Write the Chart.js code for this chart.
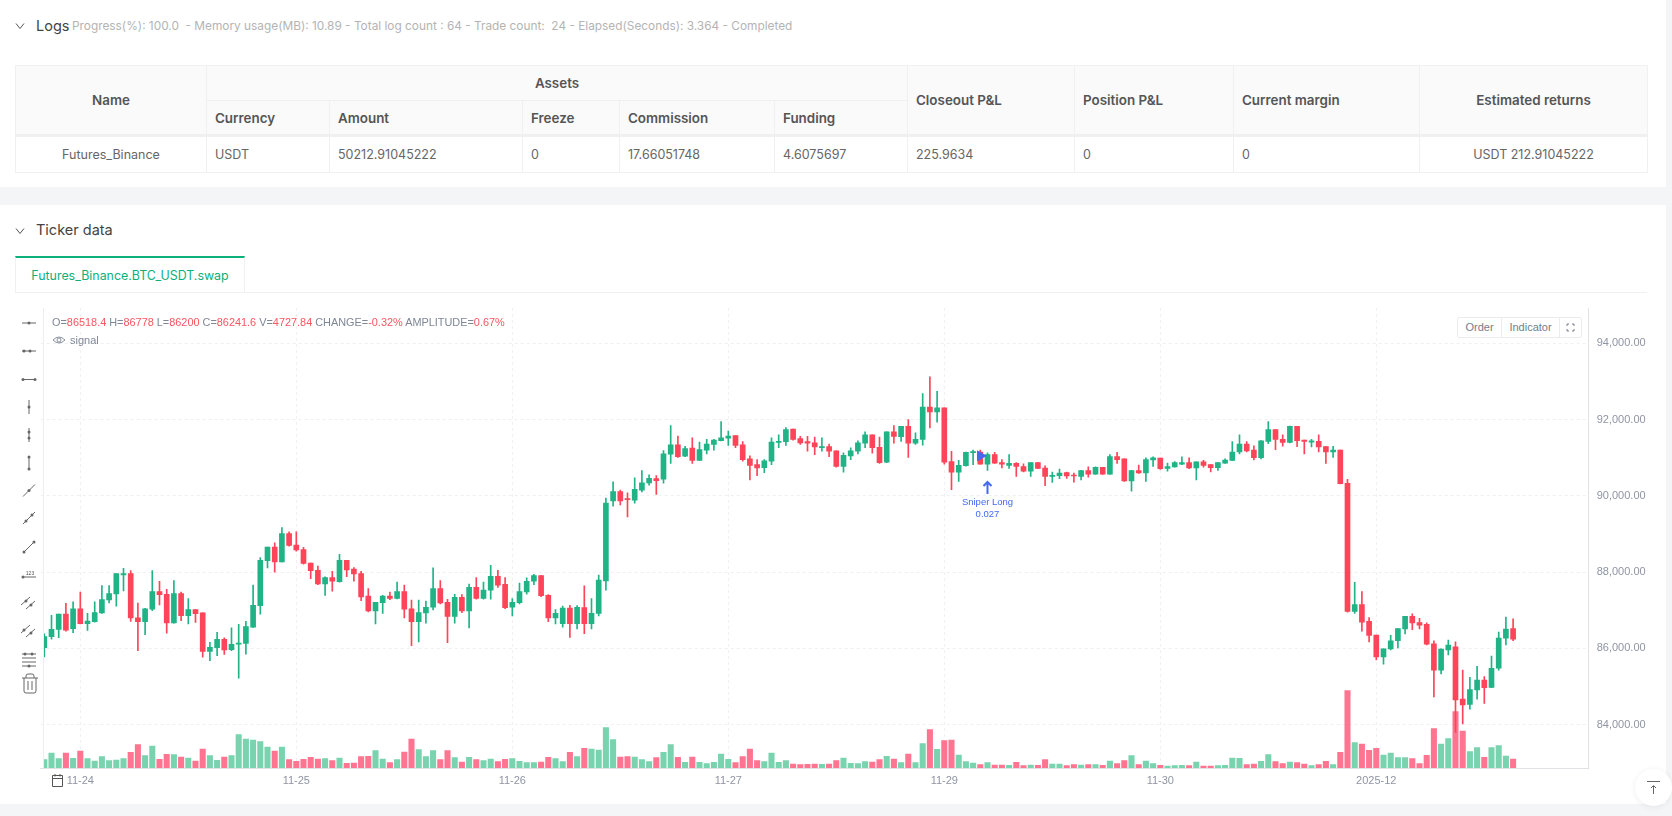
<!DOCTYPE html>
<html>
<head>
<meta charset="utf-8">
<title>Ticker data</title>
<script src="https://cdn.jsdelivr.net/npm/chart.js@4"></script>
<style>
    html, body { margin: 0; padding: 0; background: #f4f5f7; }
    body { width: 1672px; height: 816px; position: relative; overflow: hidden; font-family: Inter, sans-serif; color: #555; }
    .panel { position: absolute; left: 0; width: 1666px; background: #fff; }
    .chevron { position: absolute; left: 14px; width: 12px; height: 12px; }
    .title { position: absolute; left: 36px; font-size: 14.5px; line-height: 20px; color: #444; }
    .progress { position: absolute; left: 72px; top: 17px; font-size: 11.85px; line-height: 18px; color: #b4b4b4; white-space: pre; }

    table.assets { position: absolute; left: 15px; top: 65px; width: 1632px; border-collapse: collapse; table-layout: fixed; font-size: 12.5px; }
    table.assets th, table.assets td { border: 1px solid #f0f0f0; padding: 0 8px; text-align: left; font-weight: 400; color: #666; }
    table.assets th { background: #fafafa; font-size: 13.4px; font-weight: 600; color: #555; }
    table.assets tr.first { height: 35px; }
    table.assets tr.second { height: 35px; }
    table.assets tr.body { height: 37px; }
    table.assets thead tr:last-child th, table.assets th.tall { border-bottom: 3px solid #f0f0f0; }
    table.assets .center { text-align: center; }

    .tab { position: absolute; left: 15px; top: 256px; width: 228px; height: 35px; border: 1px solid #f0f0f0; border-top: 2px solid #0bb07b; border-bottom: 0; font-size: 12.4px; line-height: 36px; text-align: center; color: #0bb07b; }
    .tabline { position: absolute; left: 15px; top: 292px; width: 1632px; height: 1px; background: #f0f0f0; }

    #chartWrap { position: absolute; left: 0; top: 300px; width: 1672px; height: 504px; }
    .paneline { position: absolute; left: 43px; top: 308px; width: 1px; height: 460px; background: #eeeeee; }

    .legend { position: absolute; left: 52px; top: 315px; font: 10.9px/14px "Liberation Sans", sans-serif; color: #7f8796; white-space: pre; }
    .legend b { font-weight: 400; color: #f9565f; }
    .signal { position: absolute; left: 70px; top: 333px; font: 11px/14px "Liberation Sans", sans-serif; color: #7f8796; }

    .buttons { position: absolute; left: 1457px; top: 317px; width: 123px; height: 19px; border: 1px solid #ececec; border-radius: 2px; background: #fff; font: 11px/19px "Liberation Sans", sans-serif; color: #767d8a; display: flex; box-sizing: content-box; }
    .buttons span { display: block; text-align: center; border-right: 1px solid #ececec; }

    #toolbar { position: absolute; left: 18px; top: 310px; width: 24px; height: 400px; }
    .totop { position: absolute; left: 1635px; top: 769px; width: 37px; height: 37px; border-radius: 50%; background: #fff; box-shadow: 0 1px 6px rgba(0,0,0,.07); }
</style>
</head>
<body>

<div class="panel" style="top:0;height:187px;"></div>
<div class="panel" style="top:205px;height:599px;"></div>

<svg class="chevron" style="top:20px" viewBox="0 0 12 12"><path d="M2 3.5 L6 8.5 L10 3.5" fill="none" stroke="#555" stroke-width="1"/></svg>
<div class="title" style="top:16px">Logs</div>
<div class="progress">Progress(%): 100.0  - Memory usage(MB): 10.89 - Total log count : 64 - Trade count:  24 - Elapsed(Seconds): 3.364 - Completed</div>

<table class="assets">
    <colgroup>
        <col style="width:191px"><col style="width:123px"><col style="width:193px"><col style="width:97px"><col style="width:155px">
        <col style="width:133px"><col style="width:167px"><col style="width:159px"><col style="width:186px"><col style="width:228px">
    </colgroup>
    <thead>
        <tr class="first"><th rowspan="2" class="center tall">Name</th><th colspan="5" class="center">Assets</th><th rowspan="2" class="tall">Closeout P&amp;L</th><th rowspan="2" class="tall">Position P&amp;L</th><th rowspan="2" class="tall">Current margin</th><th rowspan="2" class="center tall">Estimated returns</th></tr>
        <tr class="second"><th>Currency</th><th>Amount</th><th>Freeze</th><th>Commission</th><th>Funding</th></tr>
    </thead>
    <tbody>
        <tr class="body"><td class="center">Futures_Binance</td><td>USDT</td><td>50212.91045222</td><td>0</td><td>17.66051748</td><td>4.6075697</td><td>225.9634</td><td>0</td><td>0</td><td class="center">USDT 212.91045222</td></tr>
    </tbody>
</table>

<svg class="chevron" style="top:225px" viewBox="0 0 12 12"><path d="M2 3.5 L6 8.5 L10 3.5" fill="none" stroke="#555" stroke-width="1"/></svg>
<div class="title" style="top:220px">Ticker data</div>
<div class="tabline"></div>
<div class="tab">Futures_Binance.BTC_USDT.swap</div>

<div id="chartWrap"><canvas id="klineChart"></canvas></div>
<div class="paneline"></div>

<div class="legend">O=<b>86518.4</b> H=<b>86778</b> L=<b>86200</b> C=<b>86241.6</b> V=<b>4727.84</b> CHANGE=<b>-0.32%</b> AMPLITUDE=<b>0.67%</b></div>
<svg style="position:absolute;left:52px;top:334px" width="14" height="12" viewBox="0 0 14 12"><path d="M1 6 Q7 0 13 6 Q7 12 1 6 Z" fill="none" stroke="#8a909c"/><circle cx="7" cy="6" r="2" fill="none" stroke="#8a909c"/></svg>
<div class="signal">signal</div>

<div class="buttons"><span style="width:43px">Order</span><span style="width:57px">Indicator</span><svg width="21" height="19" viewBox="0 0 21 19"><path d="M7 8 V6 H9 M12 6 H14 V8 M14 11 V13 H12 M9 13 H7 V11" fill="none" stroke="#767d8a"/></svg></div>

<svg id="toolbar" viewBox="0 0 24 400"></svg>

<svg style="position:absolute;left:47px;top:772px" width="18" height="16" viewBox="0 0 18 16"><path d="M5.5 3.5 H15.5 V14.5 H5.5 Z M5.5 6.5 H15.5 M8 2 V4.5 M13 2 V4.5" fill="none" stroke="#555"/></svg>

<div class="totop"><svg width="37" height="37" viewBox="0 0 37 37"><path d="M12 12.5 H25 M18.5 17 V25 M16 19 L18.5 16.5 L21 19" fill="none" stroke="#666"/></svg></div>

<script>
// price axis and date axis
const priceTicks = [84000, 86000, 88000, 90000, 92000, 94000];
const dateTickIndexes = [5, 35, 65, 95, 125, 155, 185];
const dateTickLabels = ['11-24', '11-25', '11-26', '11-27', '11-29', '11-30', '2025-12'];

const slotCount = 215; // empty slots stay on the right of the last candle

const opens = [
    86020,86310,86500,86900,86520,87040,86650,86700,86930,87270,
    87430,87930,87960,86800,86700,87030,87490,87420,86670,87440,
    86860,87020,86930,85920,86020,86240,85970,86110,86130,86560,
    87120,88300,88660,88270,89010,88710,88590,88240,88050,87690,
    87860,87750,88310,88080,87960,87370,86980,87200,87370,87310,
    87490,87040,86700,86930,87080,87570,87210,86840,87340,86980,
    87600,87310,87530,87890,87680,87080,87200,87480,87760,87910,
    87390,86800,86650,87060,86650,87070,86650,86920,87770,89870,
    90110,89930,89890,90150,90340,90450,90440,91090,91340,91040,
    91250,90930,91200,91350,91450,91510,91580,91340,90970,90820,
    90740,90910,91400,91420,91750,91500,91420,91390,91260,91290,
    91180,90770,91050,91170,91380,91600,91270,90880,91680,91550,
    91820,91380,91480,92330,92200,92310,90900,90620,90790,91130,
    91150,90830,91080,90870,90800,90850,90770,90650,90870,90730,
    90510,90530,90610,90540,90510,90660,90570,90750,90570,91030,
    90970,90390,90660,90600,90940,90990,90720,90760,90830,90870,
    90730,90890,90820,90740,90860,90930,91150,91360,91200,91000,
    91430,91740,91480,91400,91820,91460,91410,91430,91290,91150,
    91200,90330,86970,87150,86710,86350,85780,85990,86200,86510,
    86840,86680,86630,86120,85430,85960,86040,84670,84530,84910,
    85170,84980,85480,86270,86518.4
];

const highs = [
    86380,86870,86900,87180,87220,87480,86920,87220,87650,87650,
    87960,88100,88040,87190,87050,88040,87760,87550,87780,87480,
    87310,87020,86930,86160,86420,86280,86540,86630,86710,87660,
    88380,88660,88770,89170,89060,89060,88650,88240,88160,87880,
    88020,88470,88310,88120,88020,87570,87210,87390,87480,87740,
    87660,87270,87270,87240,88110,87780,87290,87420,87410,87690,
    87860,87740,88180,88050,87860,87310,87710,87850,87940,87910,
    87410,87020,87110,87130,87120,87640,87310,87920,89940,90370,
    90150,90080,90470,90660,90550,90530,91190,91840,91570,91300,
    91520,91410,91480,91480,91950,91700,91580,91420,91050,90950,
    90950,91520,91600,91790,91750,91560,91560,91540,91520,91360,
    91180,91130,91260,91440,91680,91600,91540,91680,91840,91820,
    92000,91650,92680,93120,92740,92310,91170,90930,91150,91200,
    91200,91130,91140,90950,91080,90870,90840,90870,90870,90790,
    90620,90700,90620,90600,90670,90760,90760,90750,91080,91140,
    90970,90670,90810,91000,91020,90990,90860,90900,91020,91000,
    90890,90930,90820,90880,90970,91420,91600,91420,91310,91450,
    91950,91740,91600,91830,91820,91460,91480,91600,91290,91300,
    91200,90430,87730,87490,86810,86350,85990,86340,86520,86840,
    86910,86790,86670,86200,85990,86220,86170,85430,85240,85530,
    85260,85800,86430,86820,86778
];

const lows = [
    85780,86240,86280,86450,86410,86640,86470,86690,86920,87190,
    87110,87510,86710,85940,86360,86990,87140,86400,86660,86730,
    86640,86680,85770,85680,85810,85840,85940,85220,85850,86550,
    86900,88110,88000,88270,88680,88550,88210,87830,87670,87390,
    87500,87740,87880,87760,87250,86960,86640,86920,87280,87300,
    86800,86070,86170,86660,87010,87170,86150,86660,86940,86540,
    87290,87290,87290,87600,87040,86850,87170,87420,87670,87360,
    86700,86640,86560,86290,86510,86390,86510,86850,87530,89730,
    89760,89450,89810,90100,90280,90040,90330,90850,91010,91030,
    90850,90930,91100,91200,91440,91320,91260,90910,90420,90530,
    90610,90820,91260,91320,91460,91350,91170,91080,91170,91030,
    90750,90620,90950,91100,91260,91120,90850,90870,91380,91430,
    91010,91350,91330,91780,91930,90830,90160,90380,90780,90820,
    90830,90670,90850,90730,90720,90510,90630,90510,90710,90270,
    90350,90450,90460,90360,90420,90490,90560,90560,90560,90850,
    90380,90120,90590,90380,90770,90690,90650,90750,90820,90710,
    90420,90750,90630,90670,90850,90920,91100,91150,90940,90970,
    91370,91210,91300,91390,91290,91100,91280,91150,90850,91010,
    90310,86950,86920,86450,86170,85700,85590,85960,86010,86380,
    86490,86510,86090,84730,85330,85830,83800,84020,84410,84670,
    84560,84970,85430,86090,86200
];

const closes = [
    86310,86500,86900,86480,87040,86650,86720,86940,87280,87440,
    87960,87960,86800,86700,87040,87490,87410,86670,87440,86860,
    87020,86910,85920,86030,86240,85960,86110,86140,86570,87130,
    88310,88660,88270,89010,88700,88580,88230,88040,87690,87860,
    87760,88310,88060,87950,87350,86980,87210,87370,87310,87490,
    87030,86700,86940,87080,87570,87190,86840,87340,86980,87600,
    87310,87530,87890,87660,87070,87210,87490,87760,87910,87380,
    86800,86920,87060,86650,87080,86650,86920,87790,89810,90110,
    89870,89900,90170,90340,90460,90400,91100,91340,91030,91240,
    90930,91210,91360,91460,91520,91570,91320,90950,90800,90730,
    90920,91410,91430,91740,91480,91390,91380,91280,91290,91170,
    90770,91060,91180,91390,91600,91260,90870,91680,91560,91820,
    91380,91480,92330,92200,92310,90880,90620,90800,91140,91160,
    90830,91080,90860,90830,90850,90770,90650,90870,90720,90510,
    90540,90600,90520,90520,90660,90570,90750,90570,91030,90950,
    90390,90660,90600,90950,91000,90710,90770,90870,90870,90730,
    90890,90800,90740,90870,90940,91150,91360,91180,91000,91440,
    91740,91480,91400,91820,91450,91430,91440,91280,91150,91200,
    90320,86970,87150,86690,86340,85780,85990,86200,86520,86840,
    86670,86610,86110,85430,85980,86090,84650,84520,84920,85170,
    84970,85480,86270,86510,86241.6
];

const volumes = [
    4375,7875,4900,7875,5075,8925,4900,3675,5950,3850,
    4200,4900,8225,12250,6475,11550,4550,7175,7000,5775,
    5250,3675,9975,6475,4025,5775,6475,17500,15225,14700,
    13825,11025,8925,11025,4375,3500,4550,5600,4725,4900,
    3850,5250,2450,2625,5950,6125,9100,4725,2800,4375,
    8400,15225,9625,5950,9100,4375,9100,5425,3150,5600,
    4375,3850,4725,3325,4550,4900,3500,2800,2800,3150,
    5600,4900,3325,8225,5950,10325,9975,9450,21175,14875,
    5775,5950,5775,4375,3325,5425,8225,12250,5600,2975,
    5775,2975,2275,2975,7350,4550,2800,5950,9975,3850,
    3325,7875,2975,3850,2100,1750,1925,2100,1925,2100,
    3850,5250,2450,2275,3325,3150,4375,6125,4725,2800,
    7350,2800,12775,20125,9800,14350,14700,6825,3325,2625,
    1750,2800,1575,1575,1400,2975,1225,1575,1400,4375,
    2100,2100,1225,1750,1575,1750,1750,1400,3675,2275,
    3850,6475,1750,3675,2275,1400,1050,1225,1400,1225,
    3150,1050,1050,1225,1400,5250,5075,1750,2100,3500,
    7000,3325,2275,3150,2800,2100,1225,1750,3500,1750,
    8225,40600,13300,12600,9275,10325,6825,7875,5425,5425,
    4900,2275,6650,20650,12600,15400,29575,19425,8575,10675,
    5600,10675,11725,6300,4727.84
];

// signal drawn on the candles
const signalMarkerIndex = 130;
const signalMarkerPrice = 91050;
const signalArrowIndex = 131;
const signalArrowPrice = 90390;
const signalTexts = ['Sniper Long', '0.027'];

const upColor = '#1fb385';
const downColor = '#fd4458';
const upVolumeColor = '#79d3ae';
const downVolumeColor = '#ff7490';
const signalColor = '#4468f2';

const labels = Array.from({ length: slotCount }, (_, i) => i);

function isUp(i) {
    return closes[i] >= opens[i];
}

const wickColors = opens.map((_, i) => isUp(i) ? upColor : downColor);
const volumeColors = opens.map((_, i) => isUp(i) ? upVolumeColor : downVolumeColor);

// arrow and text under the entry candle
const signalPlugin = {
    id: 'signalPlugin',
    afterDatasetsDraw(chart) {
        const ctx = chart.ctx;
        const x = chart.scales.x.getPixelForValue(signalArrowIndex);
        const y = chart.scales.y.getPixelForValue(signalArrowPrice);
        ctx.save();
        ctx.strokeStyle = signalColor;
        ctx.fillStyle = signalColor;
        ctx.lineWidth = 2;
        ctx.beginPath();
        ctx.moveTo(x, y + 1);
        ctx.lineTo(x, y + 13);
        ctx.moveTo(x - 4, y + 5);
        ctx.lineTo(x, y + 1);
        ctx.lineTo(x + 4, y + 5);
        ctx.stroke();
        ctx.font = '9.5px "Liberation Sans", sans-serif';
        ctx.textAlign = 'center';
        ctx.textBaseline = 'middle';
        ctx.fillText(signalTexts[0], x, y + 21);
        ctx.fillText(signalTexts[1], x, y + 33);
        ctx.restore();
    }
};

function createKlineChart() {
    const ctx = document.getElementById('klineChart');

    return new Chart(ctx, {
        type: 'bar',
        plugins: [signalPlugin],
        data: {
            labels: labels,
            datasets: [
                {
                    label: 'signal',
                    type: 'line',
                    order: 1,
                    yAxisID: 'y',
                    data: labels.map(i => i === signalMarkerIndex ? signalMarkerPrice : null),
                    showLine: false,
                    pointStyle: 'triangle',
                    pointRotation: 90,
                    pointRadius: 6.5,
                    pointBackgroundColor: signalColor,
                    pointBorderWidth: 0
                },
                {
                    label: 'body',
                    order: 2,
                    yAxisID: 'y',
                    grouped: false,
                    barThickness: 5,
                    minBarLength: 1,
                    clip: { left: -3, top: 0, right: 0, bottom: 0 },
                    data: opens.map((o, i) => [o, closes[i]]),
                    backgroundColor: wickColors
                },
                {
                    label: 'wick',
                    order: 3,
                    yAxisID: 'y',
                    grouped: false,
                    barThickness: 1,
                    clip: { left: -3, top: 0, right: 0, bottom: 0 },
                    data: lows.map((l, i) => [l, highs[i]]),
                    backgroundColor: wickColors
                },
                {
                    label: 'volume',
                    order: 4,
                    yAxisID: 'yVolume',
                    grouped: false,
                    barThickness: 5.4,
                    clip: { left: -3, top: 0, right: 0, bottom: 0 },
                    data: volumes,
                    backgroundColor: volumeColors
                }
            ]
        },
        options: {
            responsive: true,
            maintainAspectRatio: false,
            animation: false,
            layout: { padding: { left: 40.7, top: 8, right: 0, bottom: 0 } },
            plugins: {
                legend: { display: false },
                tooltip: { enabled: false }
            },
            scales: {
                x: {
                    type: 'category',
                    offset: true,
                    afterBuildTicks(scale) {
                        scale.ticks = dateTickIndexes.map(value => ({ value }));
                    },
                    afterFit(scale) {
                        scale.height = 36;
                    },
                    grid: { offset: false, color: '#f0f0f0', drawTicks: false },
                    border: { color: '#dfe1e5', dash: [3, 3] },
                    ticks: {
                        autoSkip: false,
                        maxRotation: 0,
                        padding: 6,
                        color: '#8f95a3',
                        font: { family: '"Liberation Sans", sans-serif', size: 11 },
                        callback: (value, index) => dateTickLabels[index]
                    }
                },
                y: {
                    position: 'right',
                    min: 82865,
                    max: 94925,
                    afterBuildTicks(scale) {
                        scale.ticks = priceTicks.map(value => ({ value }));
                    },
                    afterFit(scale) {
                        scale.width = 83.3;
                        // tick padding must not push the plot top down
                        scale.paddingTop = 0;
                        scale.paddingBottom = 0;
                    },
                    grid: { color: '#f0f0f0', drawTicks: false },
                    border: { color: '#dfe1e5', dash: [3, 3] },
                    ticks: {
                        padding: 8,
                        color: '#8f95a3',
                        font: { family: '"Liberation Sans", sans-serif', size: 11 },
                        callback: value => value.toLocaleString('en-US', { minimumFractionDigits: 2 })
                    }
                },
                yVolume: {
                    display: false,
                    min: 0,
                    max: 241500
                }
            }
        }
    });
}

// drawing tools on the left of the chart
function drawToolbar() {
    const rows = [
        [13, 'M1 0 H15', [[8, 0]]],
        [41, 'M1 0 H15', [[3, 0], [9, 0]]],
        [69.5, 'M2 0 H14', [[2, 0], [14, 0]]],
        [97, 'M8 -7 V7', [[8, 0]]],
        [125, 'M8 -7 V7', [[8, -3], [8, 3]]],
        [153, 'M8 -6 V6', [[8, -6], [8, 6]]],
        [180.5, 'M2 6 L14 -6', [[8, 0]]],
        [208, 'M2 6 L14 -6', [[5, 3], [11, -3]]],
        [237, 'M3 5 L13 -5', [[3, 5], [13, -5]]],
        [265, 'M2 2 H15', [[2, 2]]],
        [292, 'M0 3 L9 -5 M5 7 L14 -1', [[5, -1], [10, 3]]],
        [320, 'M0 3 L9 -5 M5 7 L14 -1', [[3, 0], [10, 3]]],
        [349, 'M1 -5 H15 M1 -1 H15 M1 3 H15 M1 7 H15', [[4, -5], [11, -5], [8, 7]]]
    ];
    let out = '';
    rows.forEach(row => {
        out += `<g transform="translate(3 ${row[0]})"><path d="${row[1]}" fill="none" stroke="#666" stroke-width="1"/>`;
        row[2].forEach(p => {
            out += `<circle cx="${p[0]}" cy="${p[1]}" r="1.5" fill="#666"/>`;
        });
        if (row[0] === 265) {
            out += '<text x="9" y="0" font-size="5" text-anchor="middle" fill="#555" font-family="Liberation Sans">123</text>';
        }
        out += '</g>';
    });
    // trash
    out += '<path d="M4 368 H20 M8 368 V366 Q8 364 10 364 H14 Q16 364 16 366 V368 M6 368 V381 Q6 383 8 383 H16 Q18 383 18 381 V368 M10 371 V380 M14 371 V380" fill="none" stroke="#666" stroke-width="1"/>';
    document.getElementById('toolbar').innerHTML = out;
}

drawToolbar();
createKlineChart();
</script>
</body>
</html>
